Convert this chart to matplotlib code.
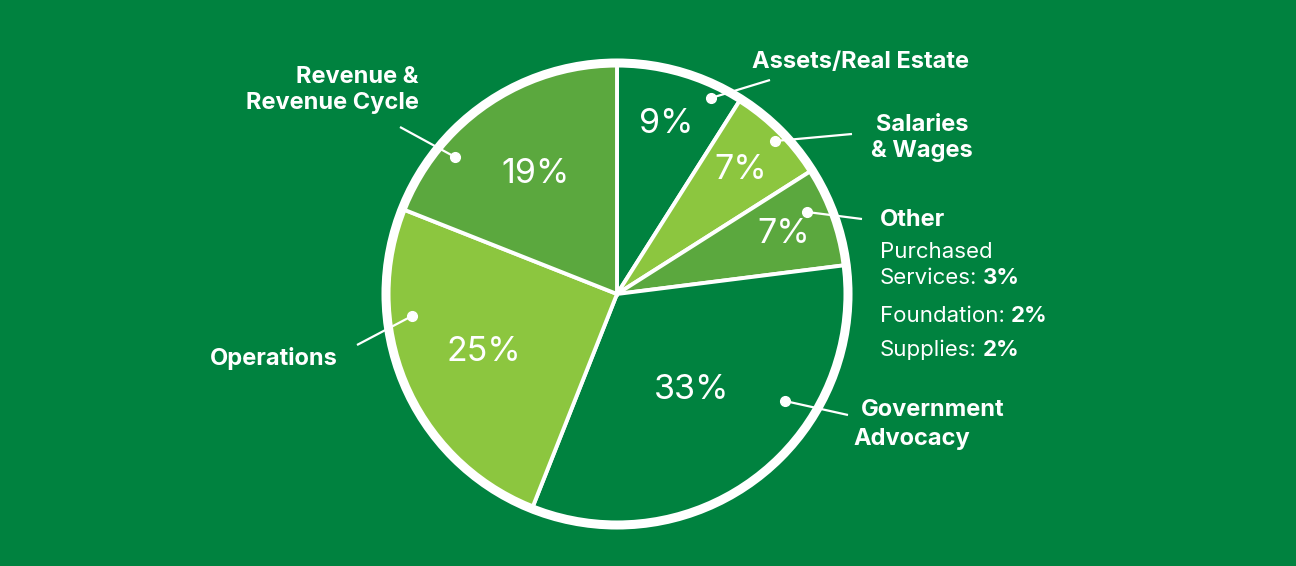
import matplotlib
matplotlib.use("Agg")
from matplotlib import pyplot as plt
import numpy as np

# spending split, clockwise from the top
categories = ["Assets/Real Estate", "Salaries & Wages", "Other",
              "Government Advocacy", "Operations", "Revenue & Revenue Cycle"]
shares = [9, 7, 7, 33, 25, 19]

other_items = ["Services:", "Foundation:", "Supplies:"]
other_shares = [3, 2, 2]

BG = "#00823f"
DARK = "#00823f"
LIGHT = "#8cc63f"
MID = "#5ba83e"
slice_colors = [DARK, LIGHT, MID, DARK, LIGHT, MID]

plt.rcParams["font.family"] = ["Inter", "DejaVu Sans"]

fig = plt.figure(figsize=(12.96, 5.66), dpi=100)
fig.patch.set_facecolor(BG)
ax = fig.add_axes([0, 0, 1, 1])
ax.set_facecolor(BG)

cx, cy, R = 617, 294, 230
# y axis points down (pixel style), so counterclock=True shows clockwise
wedges, texts, autotexts = ax.pie(
    shares, colors=slice_colors, startangle=-90, counterclock=True,
    center=(cx, cy), radius=R, autopct="%.0f%%", pctdistance=0.7,
    wedgeprops=dict(edgecolor="white", linewidth=2.8),
    textprops=dict(color="white", fontsize=24.5, fontweight="normal"))

# nudge the percentages radially like the original
pct_r = [0.77, 0.76, 0.77, 0.53, 0.63, 0.63]
for w, t, f in zip(wedges, autotexts, pct_r):
    th = np.deg2rad((w.theta1 + w.theta2) / 2)
    t.set_position((cx + f * R * np.cos(th), cy + f * R * np.sin(th)))
    t.set_ha("center")
    t.set_va("center")

ring = plt.Circle((cx, cy), R + 1, fill=False, ec="white", lw=6.5, zorder=5)
ax.add_patch(ring)

ax.set_xlim(0, 1296)
ax.set_ylim(566, 0)
ax.set_aspect("equal")
ax.axis("off")

def leader(x0, y0, x1, y1):
    ax.plot([x0, x1], [y0, y1], color="white", lw=1.6, zorder=6,
            solid_capstyle="butt")
    ax.plot([x0], [y0], "o", color="white", ms=7, zorder=7)

lab = dict(color="white", fontsize=17, fontweight="bold", va="center", zorder=8)

ax.text(860, 62, categories[0], ha="center", **lab)
leader(711, 98, 770, 80)

ax.text(922, 125, "Salaries", ha="center", **lab)
ax.text(922, 151, "& Wages", ha="center", **lab)
leader(775, 141, 852, 134)

ax.text(880, 220, categories[2], ha="left", **lab)
leader(807, 212, 862, 219)

ax.text(861, 410, "Government", ha="left", **lab)
ax.text(853, 439, "Advocacy", ha="left", **lab)
leader(785, 401, 848, 415)

ax.text(338, 358, categories[4], ha="right", **lab)
leader(412, 316, 357, 345)

ax.text(419, 77, "Revenue &", ha="right", **lab)
ax.text(419, 103, "Revenue Cycle", ha="right", **lab)
leader(455, 157, 400, 127)

# "Other" breakdown, regular names with bold numbers
sub = dict(color="white", fontsize=16, zorder=8)
ax.text(880, 258, "Purchased", ha="left", va="baseline", **sub)
sub_y = [284, 322, 356]  # baselines
fig.canvas.draw()
rend = fig.canvas.get_renderer()
inv = ax.transData.inverted()
for name, val, y in zip(other_items, other_shares, sub_y):
    t = ax.text(880, y, name, ha="left", va="baseline", **sub)
    bb = t.get_window_extent(rend)
    x_end = inv.transform((bb.x1, bb.y0))[0]
    ax.text(x_end + 6, y, f"{val}%", ha="left", va="baseline",
            fontweight="bold", **sub)

fig.savefig("out.png", dpi=100, facecolor=BG)
